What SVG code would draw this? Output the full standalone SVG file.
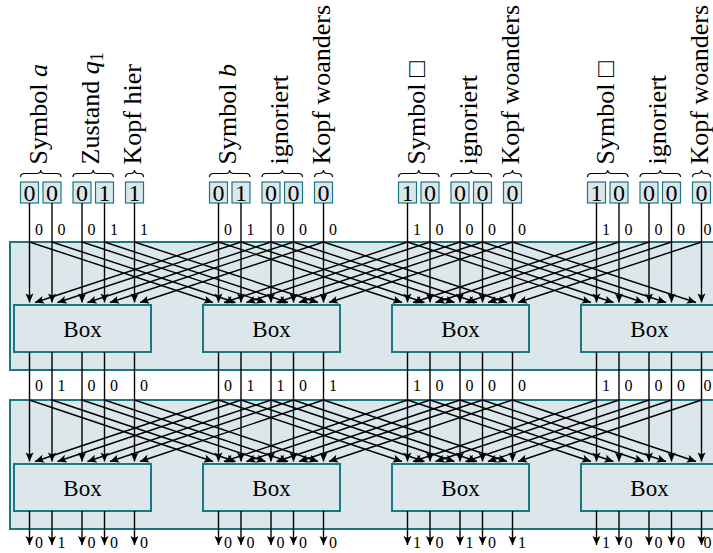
<svg xmlns="http://www.w3.org/2000/svg" width="713" height="553" viewBox="0 0 713 553">
<style>
.region{fill:#dbe7eb;stroke:#1d7783;stroke-width:2}
.box{fill:#dbe7eb;stroke:#1d7783;stroke-width:2}
.cell{fill:#dbe7eb;stroke:#1d7783;stroke-width:1.2}
.w{stroke:#000;stroke-width:1.4;fill:none}
.a{stroke:#000;stroke-width:1.4;fill:none;marker-end:url(#ah)}
.brace{stroke:#000;stroke-width:1.2;fill:none}
text{font-family:"Liberation Serif","Times New Roman",serif;fill:#000}
.lbl{font-size:26px}
.dig{font-size:24px;text-anchor:middle}
.bx{font-size:23px;text-anchor:middle}
.sm{font-size:16px;text-anchor:middle}
</style>
<defs>
<marker id="ah" markerUnits="userSpaceOnUse" markerWidth="11" markerHeight="10" viewBox="-10 -5 11 10" refX="0" refY="0" orient="auto">
<path d="M0,0 L-9,-4 L-7,0 L-9,4 Z" fill="#000"/>
</marker>
<path id="br2" class="brace" d="M0,7 Q0,3.5 4,3.5 L16.25,3.5 Q20.25,3.5 20.25,0 Q20.25,3.5 24.25,3.5 L36.5,3.5 Q40.5,3.5 40.5,7"/>
<path id="br1" class="brace" d="M0,7 Q0,3.5 4,3.5 L5,3.5 Q9,3.5 9,0 Q9,3.5 13,3.5 L14,3.5 Q18,3.5 18,7"/>
</defs>

<g id="layer1-region"><rect class="region" x="10" y="242" width="740" height="128"/></g>
<g id="layer2-region"><rect class="region" x="10" y="400" width="740" height="129"/></g>

<g id="box-1-1"><rect class="box" x="14" y="305" width="137" height="47"/><text class="bx" x="82.5" y="337">Box</text></g>
<g id="box-1-2"><rect class="box" x="203" y="305" width="137" height="47"/><text class="bx" x="271.5" y="337">Box</text></g>
<g id="box-1-3"><rect class="box" x="392" y="305" width="137" height="47"/><text class="bx" x="460.5" y="337">Box</text></g>
<g id="box-1-4"><rect class="box" x="581" y="305" width="137" height="47"/><text class="bx" x="649.5" y="337">Box</text></g>
<g id="box-2-1"><rect class="box" x="14" y="464" width="137" height="47"/><text class="bx" x="82.5" y="496">Box</text></g>
<g id="box-2-2"><rect class="box" x="203" y="464" width="137" height="47"/><text class="bx" x="271.5" y="496">Box</text></g>
<g id="box-2-3"><rect class="box" x="392" y="464" width="137" height="47"/><text class="bx" x="460.5" y="496">Box</text></g>
<g id="box-2-4"><rect class="box" x="581" y="464" width="137" height="47"/><text class="bx" x="649.5" y="496">Box</text></g>

<g id="cells-1">
<rect class="cell" x="20.5" y="182" width="18" height="21"/><text class="dig" x="29.5" y="201">0</text>
<rect class="cell" x="43" y="182" width="18" height="21"/><text class="dig" x="52" y="201">0</text>
<rect class="cell" x="73" y="182" width="18" height="21"/><text class="dig" x="82" y="201">0</text>
<rect class="cell" x="95.5" y="182" width="18" height="21"/><text class="dig" x="104.5" y="201">1</text>
<rect class="cell" x="125.5" y="182" width="18" height="21"/><text class="dig" x="134.5" y="201">1</text>
</g>
<g id="cells-2">
<rect class="cell" x="209.5" y="182" width="18" height="21"/><text class="dig" x="218.5" y="201">0</text>
<rect class="cell" x="232" y="182" width="18" height="21"/><text class="dig" x="241" y="201">1</text>
<rect class="cell" x="262" y="182" width="18" height="21"/><text class="dig" x="271" y="201">0</text>
<rect class="cell" x="284.5" y="182" width="18" height="21"/><text class="dig" x="293.5" y="201">0</text>
<rect class="cell" x="314.5" y="182" width="18" height="21"/><text class="dig" x="323.5" y="201">0</text>
</g>
<g id="cells-3">
<rect class="cell" x="398.5" y="182" width="18" height="21"/><text class="dig" x="407.5" y="201">1</text>
<rect class="cell" x="421" y="182" width="18" height="21"/><text class="dig" x="430" y="201">0</text>
<rect class="cell" x="451" y="182" width="18" height="21"/><text class="dig" x="460" y="201">0</text>
<rect class="cell" x="473.5" y="182" width="18" height="21"/><text class="dig" x="482.5" y="201">0</text>
<rect class="cell" x="503.5" y="182" width="18" height="21"/><text class="dig" x="512.5" y="201">0</text>
</g>
<g id="cells-4">
<rect class="cell" x="587.5" y="182" width="18" height="21"/><text class="dig" x="596.5" y="201">1</text>
<rect class="cell" x="610" y="182" width="18" height="21"/><text class="dig" x="619" y="201">0</text>
<rect class="cell" x="640" y="182" width="18" height="21"/><text class="dig" x="649" y="201">0</text>
<rect class="cell" x="662.5" y="182" width="18" height="21"/><text class="dig" x="671.5" y="201">0</text>
<rect class="cell" x="692.5" y="182" width="18" height="21"/><text class="dig" x="701.5" y="201">0</text>
</g>

<g id="labels-1">
<use href="#br2" x="20.5" y="170"/><text class="lbl" transform="translate(46.75,164.5) rotate(-90)">Symbol <tspan font-style="italic">a</tspan></text>
<use href="#br2" x="73" y="170"/><text class="lbl" transform="translate(99.25,164.5) rotate(-90)">Zustand <tspan font-style="italic">q</tspan><tspan font-size="18" dy="4">1</tspan></text>
<use href="#br1" x="125.5" y="170"/><text class="lbl" transform="translate(140.5,164.5) rotate(-90)">Kopf hier</text>
</g>
<g id="labels-2">
<use href="#br2" x="209.5" y="170"/><text class="lbl" transform="translate(235.75,164.5) rotate(-90)">Symbol <tspan font-style="italic">b</tspan></text>
<use href="#br2" x="262" y="170"/><text class="lbl" transform="translate(288.25,164.5) rotate(-90)">ignoriert</text>
<use href="#br1" x="314.5" y="170"/><text class="lbl" transform="translate(329.5,164.5) rotate(-90)">Kopf woanders</text>
</g>
<g id="labels-3">
<use href="#br2" x="398.5" y="170"/><text class="lbl" transform="translate(424.75,164.5) rotate(-90)">Symbol □</text>
<use href="#br2" x="451" y="170"/><text class="lbl" transform="translate(477.25,164.5) rotate(-90)">ignoriert</text>
<use href="#br1" x="503.5" y="170"/><text class="lbl" transform="translate(518.5,164.5) rotate(-90)">Kopf woanders</text>
</g>
<g id="labels-4">
<use href="#br2" x="587.5" y="170"/><text class="lbl" transform="translate(613.75,164.5) rotate(-90)">Symbol □</text>
<use href="#br2" x="640" y="170"/><text class="lbl" transform="translate(666.25,164.5) rotate(-90)">ignoriert</text>
<use href="#br1" x="692.5" y="170"/><text class="lbl" transform="translate(707.5,164.5) rotate(-90)">Kopf woanders</text>
</g>

<g id="connectors">
<line class="a" x1="29.5" y1="203" x2="29.5" y2="302.5"/><line class="a" x1="52" y1="203" x2="52" y2="302.5"/><line class="a" x1="82" y1="203" x2="82" y2="302.5"/><line class="a" x1="104.5" y1="203" x2="104.5" y2="302.5"/><line class="a" x1="134.5" y1="203" x2="134.5" y2="302.5"/>
<line class="a" x1="218.5" y1="203" x2="218.5" y2="302.5"/><line class="a" x1="241" y1="203" x2="241" y2="302.5"/><line class="a" x1="271" y1="203" x2="271" y2="302.5"/><line class="a" x1="293.5" y1="203" x2="293.5" y2="302.5"/><line class="a" x1="323.5" y1="203" x2="323.5" y2="302.5"/>
<line class="a" x1="407.5" y1="203" x2="407.5" y2="302.5"/><line class="a" x1="430" y1="203" x2="430" y2="302.5"/><line class="a" x1="460" y1="203" x2="460" y2="302.5"/><line class="a" x1="482.5" y1="203" x2="482.5" y2="302.5"/><line class="a" x1="512.5" y1="203" x2="512.5" y2="302.5"/>
<line class="a" x1="596.5" y1="203" x2="596.5" y2="302.5"/><line class="a" x1="619" y1="203" x2="619" y2="302.5"/><line class="a" x1="649" y1="203" x2="649" y2="302.5"/><line class="a" x1="671.5" y1="203" x2="671.5" y2="302.5"/><line class="a" x1="701.5" y1="203" x2="701.5" y2="302.5"/>
<line class="a" x1="29.5" y1="242" x2="213" y2="302.5"/><line class="a" x1="52" y1="242" x2="235.5" y2="302.5"/><line class="a" x1="82" y1="242" x2="265.5" y2="302.5"/><line class="a" x1="104.5" y1="242" x2="288" y2="302.5"/><line class="a" x1="134.5" y1="242" x2="318" y2="302.5"/>
<line class="a" x1="218.5" y1="242" x2="402" y2="302.5"/><line class="a" x1="241" y1="242" x2="424.5" y2="302.5"/><line class="a" x1="271" y1="242" x2="454.5" y2="302.5"/><line class="a" x1="293.5" y1="242" x2="477" y2="302.5"/><line class="a" x1="323.5" y1="242" x2="507" y2="302.5"/>
<line class="a" x1="407.5" y1="242" x2="591" y2="302.5"/><line class="a" x1="430" y1="242" x2="613.5" y2="302.5"/><line class="a" x1="460" y1="242" x2="643.5" y2="302.5"/><line class="a" x1="482.5" y1="242" x2="666" y2="302.5"/><line class="a" x1="512.5" y1="242" x2="696" y2="302.5"/>
<line class="a" x1="218.5" y1="242" x2="35" y2="302.5"/><line class="a" x1="241" y1="242" x2="57.5" y2="302.5"/><line class="a" x1="271" y1="242" x2="87.5" y2="302.5"/><line class="a" x1="293.5" y1="242" x2="110" y2="302.5"/><line class="a" x1="323.5" y1="242" x2="140" y2="302.5"/>
<line class="a" x1="407.5" y1="242" x2="224" y2="302.5"/><line class="a" x1="430" y1="242" x2="246.5" y2="302.5"/><line class="a" x1="460" y1="242" x2="276.5" y2="302.5"/><line class="a" x1="482.5" y1="242" x2="299" y2="302.5"/><line class="a" x1="512.5" y1="242" x2="329" y2="302.5"/>
<line class="a" x1="596.5" y1="242" x2="413" y2="302.5"/><line class="a" x1="619" y1="242" x2="435.5" y2="302.5"/><line class="a" x1="649" y1="242" x2="465.5" y2="302.5"/><line class="a" x1="671.5" y1="242" x2="488" y2="302.5"/><line class="a" x1="701.5" y1="242" x2="518" y2="302.5"/>
<line class="a" x1="29.5" y1="352" x2="29.5" y2="461.5"/><line class="a" x1="52" y1="352" x2="52" y2="461.5"/><line class="a" x1="82" y1="352" x2="82" y2="461.5"/><line class="a" x1="104.5" y1="352" x2="104.5" y2="461.5"/><line class="a" x1="134.5" y1="352" x2="134.5" y2="461.5"/>
<line class="a" x1="218.5" y1="352" x2="218.5" y2="461.5"/><line class="a" x1="241" y1="352" x2="241" y2="461.5"/><line class="a" x1="271" y1="352" x2="271" y2="461.5"/><line class="a" x1="293.5" y1="352" x2="293.5" y2="461.5"/><line class="a" x1="323.5" y1="352" x2="323.5" y2="461.5"/>
<line class="a" x1="407.5" y1="352" x2="407.5" y2="461.5"/><line class="a" x1="430" y1="352" x2="430" y2="461.5"/><line class="a" x1="460" y1="352" x2="460" y2="461.5"/><line class="a" x1="482.5" y1="352" x2="482.5" y2="461.5"/><line class="a" x1="512.5" y1="352" x2="512.5" y2="461.5"/>
<line class="a" x1="596.5" y1="352" x2="596.5" y2="461.5"/><line class="a" x1="619" y1="352" x2="619" y2="461.5"/><line class="a" x1="649" y1="352" x2="649" y2="461.5"/><line class="a" x1="671.5" y1="352" x2="671.5" y2="461.5"/><line class="a" x1="701.5" y1="352" x2="701.5" y2="461.5"/>
<line class="a" x1="29.5" y1="400" x2="213" y2="461.5"/><line class="a" x1="52" y1="400" x2="235.5" y2="461.5"/><line class="a" x1="82" y1="400" x2="265.5" y2="461.5"/><line class="a" x1="104.5" y1="400" x2="288" y2="461.5"/><line class="a" x1="134.5" y1="400" x2="318" y2="461.5"/>
<line class="a" x1="218.5" y1="400" x2="402" y2="461.5"/><line class="a" x1="241" y1="400" x2="424.5" y2="461.5"/><line class="a" x1="271" y1="400" x2="454.5" y2="461.5"/><line class="a" x1="293.5" y1="400" x2="477" y2="461.5"/><line class="a" x1="323.5" y1="400" x2="507" y2="461.5"/>
<line class="a" x1="407.5" y1="400" x2="591" y2="461.5"/><line class="a" x1="430" y1="400" x2="613.5" y2="461.5"/><line class="a" x1="460" y1="400" x2="643.5" y2="461.5"/><line class="a" x1="482.5" y1="400" x2="666" y2="461.5"/><line class="a" x1="512.5" y1="400" x2="696" y2="461.5"/>
<line class="a" x1="218.5" y1="400" x2="35" y2="461.5"/><line class="a" x1="241" y1="400" x2="57.5" y2="461.5"/><line class="a" x1="271" y1="400" x2="87.5" y2="461.5"/><line class="a" x1="293.5" y1="400" x2="110" y2="461.5"/><line class="a" x1="323.5" y1="400" x2="140" y2="461.5"/>
<line class="a" x1="407.5" y1="400" x2="224" y2="461.5"/><line class="a" x1="430" y1="400" x2="246.5" y2="461.5"/><line class="a" x1="460" y1="400" x2="276.5" y2="461.5"/><line class="a" x1="482.5" y1="400" x2="299" y2="461.5"/><line class="a" x1="512.5" y1="400" x2="329" y2="461.5"/>
<line class="a" x1="596.5" y1="400" x2="413" y2="461.5"/><line class="a" x1="619" y1="400" x2="435.5" y2="461.5"/><line class="a" x1="649" y1="400" x2="465.5" y2="461.5"/><line class="a" x1="671.5" y1="400" x2="488" y2="461.5"/><line class="a" x1="701.5" y1="400" x2="518" y2="461.5"/>
<line class="a" x1="29.5" y1="511" x2="29.5" y2="545"/><line class="a" x1="52" y1="511" x2="52" y2="545"/><line class="a" x1="82" y1="511" x2="82" y2="545"/><line class="a" x1="104.5" y1="511" x2="104.5" y2="545"/><line class="a" x1="134.5" y1="511" x2="134.5" y2="545"/>
<line class="a" x1="218.5" y1="511" x2="218.5" y2="545"/><line class="a" x1="241" y1="511" x2="241" y2="545"/><line class="a" x1="271" y1="511" x2="271" y2="545"/><line class="a" x1="293.5" y1="511" x2="293.5" y2="545"/><line class="a" x1="323.5" y1="511" x2="323.5" y2="545"/>
<line class="a" x1="407.5" y1="511" x2="407.5" y2="545"/><line class="a" x1="430" y1="511" x2="430" y2="545"/><line class="a" x1="460" y1="511" x2="460" y2="545"/><line class="a" x1="482.5" y1="511" x2="482.5" y2="545"/><line class="a" x1="512.5" y1="511" x2="512.5" y2="545"/>
<line class="a" x1="596.5" y1="511" x2="596.5" y2="545"/><line class="a" x1="619" y1="511" x2="619" y2="545"/><line class="a" x1="649" y1="511" x2="649" y2="545"/><line class="a" x1="671.5" y1="511" x2="671.5" y2="545"/><line class="a" x1="701.5" y1="511" x2="701.5" y2="545"/>
</g>

<g id="wire-values">
<text class="sm" x="39" y="235">0</text><text class="sm" x="61.5" y="235">0</text><text class="sm" x="91.5" y="235">0</text><text class="sm" x="114" y="235">1</text><text class="sm" x="144" y="235">1</text>
<text class="sm" x="228" y="235">0</text><text class="sm" x="250.5" y="235">1</text><text class="sm" x="280.5" y="235">0</text><text class="sm" x="303" y="235">0</text><text class="sm" x="333" y="235">0</text>
<text class="sm" x="417" y="235">1</text><text class="sm" x="439.5" y="235">0</text><text class="sm" x="469.5" y="235">0</text><text class="sm" x="492" y="235">0</text><text class="sm" x="522" y="235">0</text>
<text class="sm" x="606" y="235">1</text><text class="sm" x="628.5" y="235">0</text><text class="sm" x="658.5" y="235">0</text><text class="sm" x="681" y="235">0</text><text class="sm" x="707.5" y="235">0</text>

<text class="sm" x="39" y="390.5">0</text><text class="sm" x="61.5" y="390.5">1</text><text class="sm" x="91.5" y="390.5">0</text><text class="sm" x="114" y="390.5">0</text><text class="sm" x="144" y="390.5">0</text>
<text class="sm" x="228" y="390.5">0</text><text class="sm" x="250.5" y="390.5">1</text><text class="sm" x="280.5" y="390.5">1</text><text class="sm" x="303" y="390.5">0</text><text class="sm" x="333" y="390.5">1</text>
<text class="sm" x="417" y="390.5">1</text><text class="sm" x="439.5" y="390.5">0</text><text class="sm" x="469.5" y="390.5">0</text><text class="sm" x="492" y="390.5">0</text><text class="sm" x="522" y="390.5">0</text>
<text class="sm" x="606" y="390.5">1</text><text class="sm" x="628.5" y="390.5">0</text><text class="sm" x="658.5" y="390.5">0</text><text class="sm" x="681" y="390.5">0</text><text class="sm" x="707.5" y="390.5">0</text>

<text class="sm" x="39" y="548">0</text><text class="sm" x="61.5" y="548">1</text><text class="sm" x="91.5" y="548">0</text><text class="sm" x="114" y="548">0</text><text class="sm" x="144" y="548">0</text>
<text class="sm" x="228" y="548">0</text><text class="sm" x="250.5" y="548">0</text><text class="sm" x="280.5" y="548">0</text><text class="sm" x="303" y="548">0</text><text class="sm" x="333" y="548">0</text>
<text class="sm" x="417" y="548">1</text><text class="sm" x="439.5" y="548">0</text><text class="sm" x="469.5" y="548">1</text><text class="sm" x="492" y="548">0</text><text class="sm" x="522" y="548">1</text>
<text class="sm" x="606" y="548">1</text><text class="sm" x="628.5" y="548">0</text><text class="sm" x="658.5" y="548">0</text><text class="sm" x="681" y="548">0</text><text class="sm" x="707.5" y="548">0</text>
</g>
</svg>
